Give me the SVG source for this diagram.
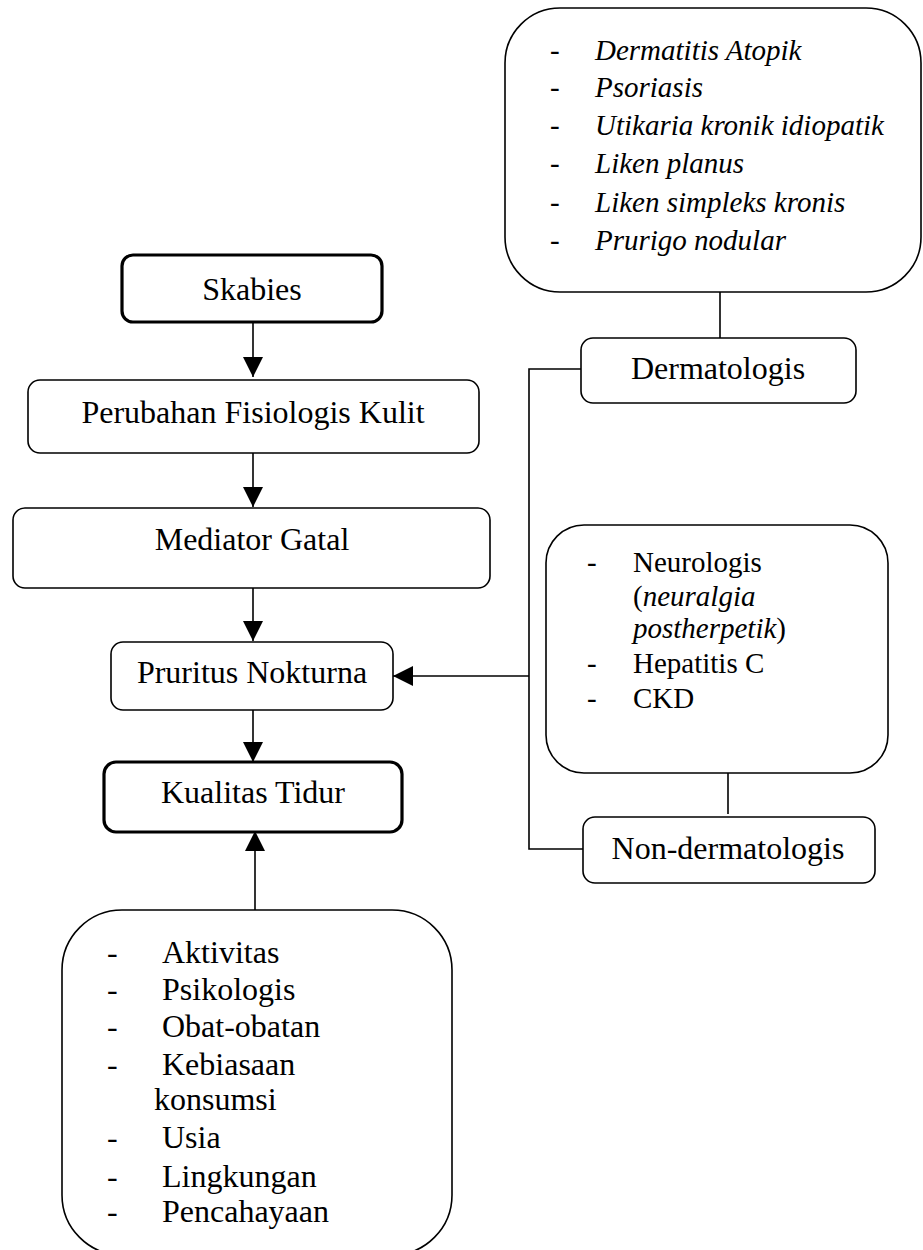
<svg xmlns="http://www.w3.org/2000/svg" width="923" height="1250" viewBox="0 0 923 1250">
<style>
.box{fill:#fff;stroke:#000;stroke-width:1.6}
.thick{stroke-width:3.2}
.t{font-family:"Liberation Serif","Times New Roman",serif;font-size:32px;fill:#000}
.m{text-anchor:middle}
.s29{font-size:29px}
.i{font-style:italic}
.ln{fill:none;stroke:#000;stroke-width:1.6}
</style>
<defs>
<marker id="ah" markerWidth="20" markerHeight="20" refX="20" refY="10" orient="auto" markerUnits="userSpaceOnUse">
<path d="M0,0 L20,10 L0,20 Z" fill="#000"/>
</marker>
</defs>
<g id="connectors">
<line class="ln" x1="253" y1="322" x2="253" y2="377" marker-end="url(#ah)"/>
<line class="ln" x1="253" y1="453" x2="253" y2="507" marker-end="url(#ah)"/>
<line class="ln" x1="253" y1="588" x2="253" y2="641" marker-end="url(#ah)"/>
<line class="ln" x1="253" y1="710" x2="253" y2="762" marker-end="url(#ah)"/>
<line class="ln" x1="255" y1="910" x2="255" y2="831" marker-end="url(#ah)"/>
<line class="ln" x1="529" y1="676" x2="393" y2="676" marker-end="url(#ah)"/>
<polyline class="ln" points="583,369 529,369 529,849 583,849"/>
<line class="ln" x1="720" y1="292" x2="720" y2="338"/>
<line class="ln" x1="728" y1="773" x2="728" y2="814"/>
</g>
<g id="n-derm-list">
<rect class="box" x="505" y="8" width="416" height="284" rx="55"/>
<g class="t s29">
<text x="550" y="60">-</text><text class="i" x="595" y="60">Dermatitis Atopik</text>
<text x="550" y="97">-</text><text class="i" x="595" y="97">Psoriasis</text>
<text x="550" y="135">-</text><text class="i" x="595" y="135">Utikaria kronik idiopatik</text>
<text x="550" y="173">-</text><text class="i" x="595" y="173">Liken planus</text>
<text x="550" y="212">-</text><text class="i" x="595" y="212">Liken simpleks kronis</text>
<text x="550" y="250">-</text><text class="i" x="595" y="250">Prurigo nodular</text>
</g>
</g>
<g id="n-skabies">
<rect class="box thick" x="122" y="255" width="260" height="67" rx="11"/>
<text class="t m" x="252" y="300">Skabies</text>
</g>
<g id="n-perubahan">
<rect class="box" x="28" y="380" width="451" height="73" rx="12"/>
<text class="t m" x="253" y="423">Perubahan Fisiologis Kulit</text>
</g>
<g id="n-mediator">
<rect class="box" x="13" y="508" width="477" height="80" rx="12"/>
<text class="t m" x="252" y="550">Mediator Gatal</text>
</g>
<g id="n-pruritus">
<rect class="box" x="111" y="642" width="282" height="68" rx="12"/>
<text class="t m" x="252" y="683">Pruritus Nokturna</text>
</g>
<g id="n-kualitas">
<rect class="box thick" x="104" y="762" width="298" height="70" rx="12"/>
<text class="t m" x="253" y="803">Kualitas Tidur</text>
</g>
<g id="n-dermatologis">
<rect class="box" x="581" y="338" width="275" height="65" rx="12"/>
<text class="t m" x="718" y="379">Dermatologis</text>
</g>
<g id="n-nonderm-list">
<rect class="box" x="546" y="525" width="342" height="248" rx="38"/>
<g class="t s29">
<text x="587" y="572">-</text><text x="633" y="572">Neurologis</text>
<text x="633" y="606">(<tspan class="i">neuralgia</tspan></text>
<text x="633" y="638"><tspan class="i">postherpetik</tspan>)</text>
<text x="587" y="673">-</text><text x="633" y="673">Hepatitis C</text>
<text x="587" y="708">-</text><text x="633" y="708">CKD</text>
</g>
</g>
<g id="n-nondermatologis">
<rect class="box" x="583" y="817" width="292" height="66" rx="12"/>
<text class="t m" x="728" y="859">Non-dermatologis</text>
</g>
<g id="n-faktor">
<rect class="box" x="62" y="910" width="390" height="345" rx="60"/>
<g class="t">
<text x="107" y="963">-</text><text x="162" y="963">Aktivitas</text>
<text x="107" y="1000">-</text><text x="162" y="1000">Psikologis</text>
<text x="107" y="1037">-</text><text x="162" y="1037">Obat-obatan</text>
<text x="107" y="1075">-</text><text x="162" y="1075">Kebiasaan</text>
<text x="154" y="1110">konsumsi</text>
<text x="107" y="1148">-</text><text x="162" y="1148">Usia</text>
<text x="107" y="1187">-</text><text x="162" y="1187">Lingkungan</text>
<text x="107" y="1222">-</text><text x="162" y="1222">Pencahayaan</text>
</g>
</g>
</svg>
